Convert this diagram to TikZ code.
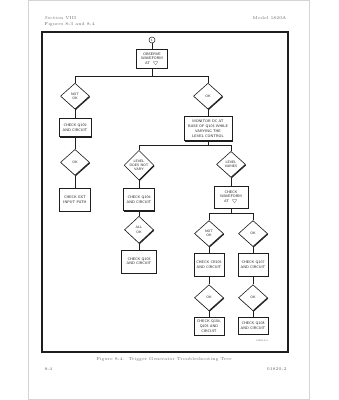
\documentclass[tikz,border=0pt]{standalone}
\usepackage{xcolor}
\usepackage{tikz}
\usetikzlibrary{shapes.geometric,positioning,shadows,calc}
\definecolor{InkBlack}{HTML}{1E1E1E}
\definecolor{PrintGray}{HTML}{6E6E6E}
\definecolor{PageEdge}{HTML}{D4D4D4}
\newcommand{\tpmark}{$\bigtriangledown$}
\tikzset{
  BX/.style={rectangle,draw=InkBlack,fill=white,line width=0.6pt,
             minimum width=31pt,minimum height=21pt,inner sep=0.6pt,
             text centered,align=center,text=InkBlack,
             font=\sffamily\fontsize{3.7}{4.7}\selectfont,
             drop shadow={shadow xshift=0.8pt,shadow yshift=-0.9pt,fill=InkBlack,opacity=1}},
  DM/.style={diamond,draw=InkBlack,fill=white,line width=0.6pt,
             minimum width=29pt,minimum height=26pt,inner sep=0pt,
             text centered,align=center,text=InkBlack,
             font=\sffamily\fontsize{3.5}{4.2}\selectfont,
             drop shadow={shadow xshift=0.8pt,shadow yshift=-0.9pt,fill=InkBlack,opacity=1}},
  ln/.style={draw=InkBlack,line width=0.55pt},
  PG/.style={text=PrintGray,font=\rmfamily\fontsize{4.3}{5}\selectfont}
}
\begin{document}
\begin{tikzpicture}[x=1pt,y=-1pt]
  \useasboundingbox (0,0) rectangle (339,400);
  % page and frame
  \draw[PageEdge,line width=0.8pt] (28,0.6) rectangle (309,399.2);
  \draw[InkBlack,line width=1.1pt] (42,32) rectangle (288,352);
  \node[PG,anchor=base west] (sec) at (41,19) {Section VIII};
  \node[PG,anchor=base west] (figs) at (41,25) {Figures 8-3 and 8-4};
  \node[PG,anchor=base east] (model) at (290,19) {Model 1820A};
  \node[PG,anchor=base] (cap) at (164,360) {Figure 8-4.\ \ Trigger Generator Troubleshooting Tree};
  \node[PG,anchor=base west] (pgno) at (41,370) {8-4};
  \node[PG,anchor=base east] (docno) at (290,370) {01820-2};
  \node[text=PrintGray,font=\sffamily\fontsize{2.4}{3}\selectfont] (dwg) at (262,341) {1820A-A-4};

  % tree
  \node[circle,draw=InkBlack,line width=0.5pt,inner sep=0pt,minimum size=6pt,
        font=\sffamily\fontsize{3}{3}\selectfont] (tp) at (152,40) {1};
  \node[BX,minimum height=19pt,below=6pt of tp] (observe) {OBSERVE\\WAVEFORM\\AT \ \tpmark};
  \node[DM,below=14pt of observe,xshift=-77pt] (notok) {NOT\\OK};
  \node[DM,below=14pt of observe,xshift=56pt] (ok) {OK};

  \node[BX,minimum width=32pt,minimum height=18pt,below=9pt of notok] (chkQ109) {CHECK Q109\\AND CIRCUIT};
  \node[DM,below=12pt of chkQ109] (okB) {OK};
  \node[BX,minimum height=23pt,below=12pt of okB] (chkext) {CHECK EXT\\INPUT PATH};

  \node[BX,minimum width=48pt,minimum height=24pt,below=7pt of ok] (monitor) {MONITOR DC AT\\BASE OF Q103 WHILE\\VARYING THE\\LEVEL CONTROL};
  \node[DM,minimum height=29pt,below=9pt of monitor,xshift=-69pt] (novary) {LEVEL\\DOES NOT\\VARY};
  \node[DM,below=10pt of monitor,xshift=23pt] (varies) {LEVEL\\VARIES};

  \node[BX,minimum height=22pt,below=8pt of novary] (chkQ106) {CHECK Q106\\AND CIRCUIT};
  \node[DM,minimum height=27pt,below=5pt of chkQ106] (allok) {ALL\\OK};
  \node[BX,minimum width=35pt,minimum height=23pt,below=6pt of allok] (chkQ105) {CHECK Q105\\AND CIRCUIT};

  \node[BX,minimum width=34pt,minimum height=22pt,below=8pt of varies] (chkwave) {CHECK\\WAVEFORM\\AT \ \tpmark};
  \node[DM,below=12pt of chkwave,xshift=-22pt] (notokC) {NOT\\OK};
  \node[DM,below=12pt of chkwave,xshift=22pt] (okC) {OK};

  \node[BX,minimum width=30pt,minimum height=23pt,below=6pt of notokC] (chkCR105) {CHECK CR105\\AND CIRCUIT};
  \node[BX,minimum width=30pt,minimum height=23pt,below=6pt of okC] (chkQ107) {CHECK Q107\\AND CIRCUIT};
  \node[DM,below=8pt of chkCR105] (okD) {OK};
  \node[DM,below=8pt of chkQ107] (okE) {OK};
  \node[BX,minimum width=30pt,minimum height=18pt,below=6pt of okD] (chkQ104) {CHECK Q104,\\Q105 AND\\CIRCUIT};
  \node[BX,minimum width=30pt,minimum height=17pt,below=6pt of okE] (chkQ108) {CHECK Q108\\AND CIRCUIT};

  % branch points
  \coordinate (brA) at ($(ok.north)+(0,-7)$);
  \coordinate (brB) at ($(varies.north)+(0,-6)$);
  \coordinate (brC) at ($(okC.north)+(0,-7)$);

  \draw[ln] (tp) -- (observe);
  \draw[ln] (observe.south) -- (observe.south |- brA);
  \draw[ln] (notok.north) |- (brA) -- (ok.north);
  \draw[ln] (notok) -- (chkQ109);
  \draw[ln] (chkQ109) -- (okB);
  \draw[ln] (okB) -- (chkext);
  \draw[ln] (ok) -- (monitor);
  \draw[ln] (monitor.south) -- (monitor.south |- brB);
  \draw[ln] (novary.north) |- (brB) -- (varies.north);
  \draw[ln] (novary) -- (chkQ106);
  \draw[ln] (chkQ106) -- (allok);
  \draw[ln] (allok) -- (chkQ105);
  \draw[ln] (varies) -- (chkwave);
  \draw[ln] (chkwave.south) -- (chkwave.south |- brC);
  \draw[ln] (notokC.north) |- (brC) -- (okC.north);
  \draw[ln] (notokC) -- (chkCR105);
  \draw[ln] (okC) -- (chkQ107);
  \draw[ln] (chkCR105) -- (okD);
  \draw[ln] (chkQ107) -- (okE);
  \draw[ln] (okD) -- (chkQ104);
  \draw[ln] (okE) -- (chkQ108);
\end{tikzpicture}
\end{document}
